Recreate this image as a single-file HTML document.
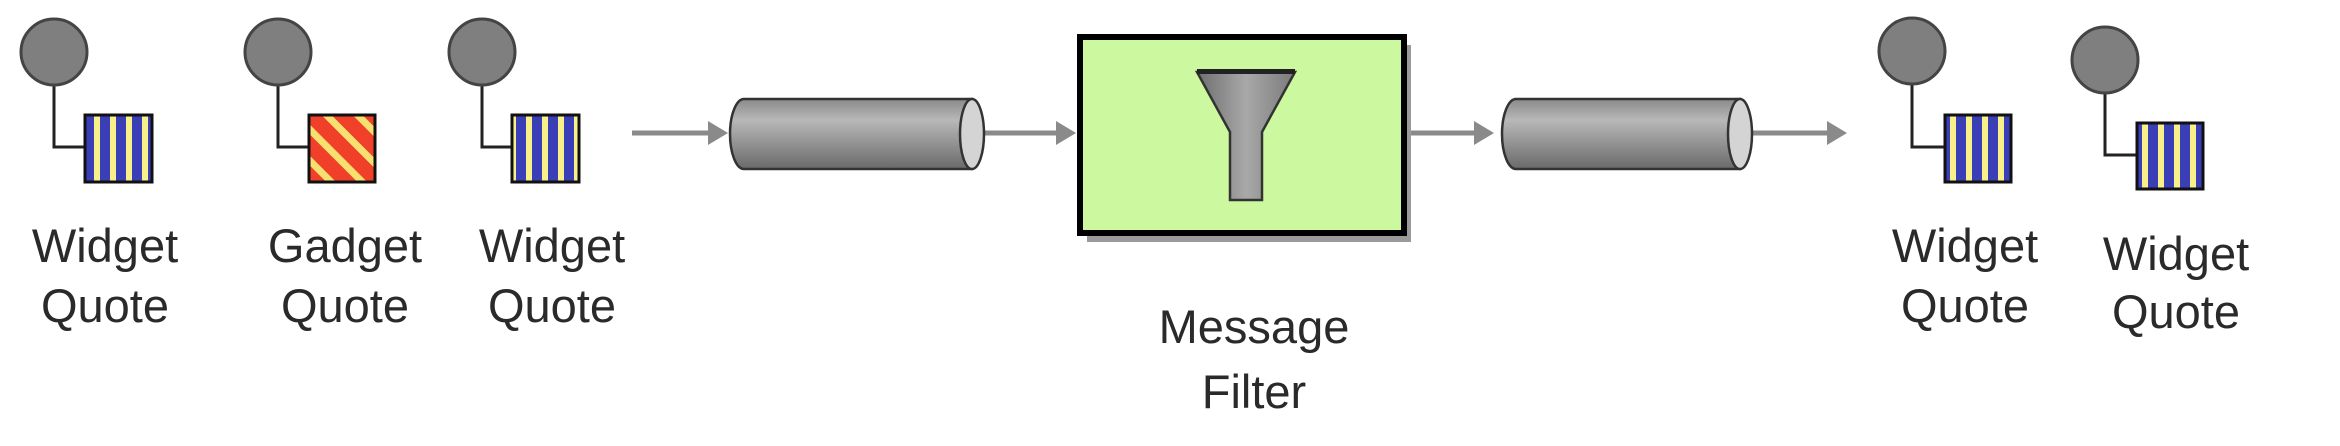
<!DOCTYPE html>
<html><head><meta charset="utf-8"><style>
html,body{margin:0;padding:0;background:#fff;}
svg{display:block;}
text{font-family:"Liberation Sans",sans-serif;font-size:47px;fill:#2a2a2a;text-anchor:middle;}
</style></head><body>
<svg width="2340" height="446" viewBox="0 0 2340 446" xmlns="http://www.w3.org/2000/svg">
<defs>
<pattern id="vs" patternUnits="userSpaceOnUse" width="16" height="20" x="85">
<rect width="16" height="20" fill="#3a3fb8"/><rect x="9" width="6" height="20" fill="#f8f08a"/>
</pattern>
<pattern id="ds" patternUnits="userSpaceOnUse" width="22" height="22" patternTransform="rotate(-45)">
<rect width="22" height="22" fill="#f0402a"/><rect x="14" width="7" height="22" fill="#f8e070"/>
</pattern>
<linearGradient id="cyl" x1="0" y1="0" x2="0" y2="1">
<stop offset="0" stop-color="#8a8a8a"/><stop offset="0.3" stop-color="#b8b8b8"/><stop offset="1" stop-color="#6a6a6a"/>
</linearGradient>
<linearGradient id="fun" x1="0" y1="0" x2="1" y2="0">
<stop offset="0" stop-color="#6e6e6e"/><stop offset="0.5" stop-color="#a8a8a8"/><stop offset="1" stop-color="#7a7a7a"/>
</linearGradient>
</defs>

<g stroke="#222" stroke-width="3" fill="none">
<path d="M54 85 V147 H85"/><path d="M278 85 V147 H309"/><path d="M482 85 V147 H512"/>
<path d="M1912 83 V147 H1945"/><path d="M2105 92 V155 H2137"/>
</g>
<g fill="#7f7f7f" stroke="#444" stroke-width="3">
<circle cx="54" cy="52" r="33"/><circle cx="278" cy="52" r="33"/><circle cx="482" cy="52" r="33"/>
<circle cx="1912" cy="51" r="33"/><circle cx="2105" cy="60" r="33"/>
</g>
<g stroke="#111" stroke-width="3">
<rect x="85" y="115" width="67" height="67" fill="url(#vs)"/>
<rect x="309" y="115" width="66" height="67" fill="url(#ds)"/>
<rect x="512" y="115" width="67" height="67" fill="url(#vs)"/>
<rect x="1945" y="115" width="66" height="67" fill="url(#vs)"/>
<rect x="2137" y="123" width="66" height="66" fill="url(#vs)"/>
</g>

<g stroke="#8a8a8a" stroke-width="5" fill="#8a8a8a">
<line x1="632" y1="133" x2="712" y2="133"/><path d="M728 133 L708 121 L708 145Z" stroke="none"/>
<line x1="984" y1="133" x2="1060" y2="133"/><path d="M1076 133 L1056 121 L1056 145Z" stroke="none"/>
<line x1="1405" y1="133" x2="1478" y2="133"/><path d="M1494 133 L1474 121 L1474 145Z" stroke="none"/>
<line x1="1752" y1="133" x2="1830" y2="133"/><path d="M1847 133 L1827 121 L1827 145Z" stroke="none"/>
</g>

<g stroke="#333" stroke-width="2.5">
<path d="M744 99 H972 V169 H744 A14 35 0 0 1 744 99Z" fill="url(#cyl)"/>
<ellipse cx="972" cy="134" rx="12" ry="35" fill="#d4d4d4"/>
<path d="M1516 99 H1740 V169 H1516 A14 35 0 0 1 1516 99Z" fill="url(#cyl)"/>
<ellipse cx="1740" cy="134" rx="12" ry="35" fill="#d4d4d4"/>
</g>

<rect x="1087" y="45" width="324" height="197" fill="#9a9a9a"/>
<rect x="1080" y="37" width="324" height="196" fill="#ccf8a0" stroke="#000" stroke-width="6"/>
<path d="M1197 72 H1295 L1262 132 V200 H1230 V132 Z" fill="url(#fun)" stroke="#333" stroke-width="2.5"/>
<rect x="1197" y="69" width="98" height="5" fill="#222"/>

<text x="105" y="262">Widget</text><text x="105" y="322">Quote</text>
<text x="345" y="262">Gadget</text><text x="345" y="322">Quote</text>
<text x="552" y="262">Widget</text><text x="552" y="322">Quote</text>
<text x="1965" y="262">Widget</text><text x="1965" y="322">Quote</text>
<text x="2176" y="270">Widget</text><text x="2176" y="328">Quote</text>
<text x="1254" y="343">Message</text><text x="1254" y="408">Filter</text>
</svg>
</body></html>
